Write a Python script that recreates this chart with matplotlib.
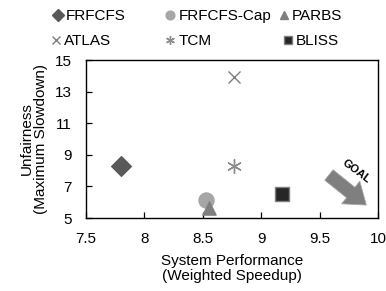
import matplotlib
matplotlib.use("Agg")
import matplotlib.pyplot as plt
from matplotlib.lines import Line2D

plt.rcParams['font.family'] = ['Liberation Sans', 'DejaVu Sans']

names = ['FRFCFS', 'FRFCFS-Cap', 'PARBS', 'ATLAS', 'TCM', 'BLISS']
speedup = [7.8, 8.53, 8.55, 8.77, 8.77, 9.18]
slowdown = [8.3, 6.15, 5.63, 13.9, 8.3, 6.5]

markers = ['D', 'o', '^', 'x', (6, 2, 0), 's']
sizes = [100, 117, 90, 75, 100, 88]
colors = ['#595959', '#a6a6a6', '#7f7f7f', '#7f7f7f', '#8c8c8c', '#262626']
edges = ['#595959', '#a6a6a6', '#7f7f7f', '#7f7f7f', '#8c8c8c', '#7f7f7f']

fig = plt.figure(figsize=(3.86, 2.91), dpi=100)
ax = fig.add_axes([86/386, 1-218/291, 292/386, 158/291])

for n, x, y, m, s, c, e in zip(names, speedup, slowdown, markers, sizes, colors, edges):
    ax.scatter(x, y, marker=m, s=s, c=c, edgecolors=e, linewidths=1.0,
               clip_on=False, zorder=3, label=n)

ax.set_xlim(7.5, 10)
ax.set_ylim(5, 15)
ax.set_xticks([7.5, 8, 8.5, 9, 9.5, 10])
ax.set_xticklabels(['7.5', '8', '8.5', '9', '9.5', '10'])
ax.set_yticks([5, 7, 9, 11, 13, 15])
ax.tick_params(axis='both', direction='in', length=4, width=0.9, labelsize=11, pad=10)
for sp in ax.spines.values():
    sp.set_linewidth(1.0)
    sp.set_color('black')

ax.set_xlabel('System Performance\n(Weighted Speedup)', fontsize=11, labelpad=6,
              linespacing=1.1)
ax.set_ylabel('Unfairness\n(Maximum Slowdown)', fontsize=11, labelpad=5,
              linespacing=1.0)

# goal arrow
ax.annotate('', xy=(9.90, 5.82), xytext=(9.58, 7.72),
            arrowprops=dict(arrowstyle='simple,head_length=0.9,head_width=1.3,tail_width=0.6',
                            fc='#7f7f7f', ec='#a6a6a6', lw=0.6, mutation_scale=16,
                            shrinkA=0, shrinkB=0))
ax.text(9.81, 7.97, 'GOAL', rotation=-37, fontsize=8, fontweight='bold',
        ha='center', va='center')

# legend entries placed manually
leg_pos = [(53, 16), (165.5, 16), (279, 16), (51, 41), (165.5, 41), (283, 41)]
for (lx, ly), n, m, c, e in zip(leg_pos, names, markers, colors, edges):
    h = Line2D([], [], marker=m, ls='none', markersize=6.3, color=c,
               markeredgecolor=e, markeredgewidth=1.0)
    fig.legend([h], [n], loc='center left', bbox_to_anchor=(lx/386, 1-ly/291),
               frameon=False, fontsize=11, handlelength=0.6, handletextpad=0.25,
               borderpad=0, borderaxespad=0)

fig.savefig('out.png', dpi=100)
